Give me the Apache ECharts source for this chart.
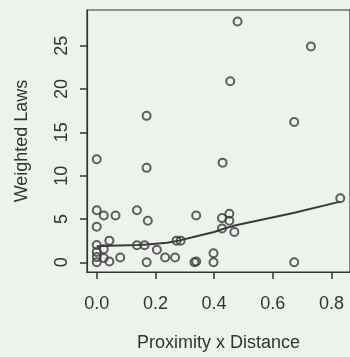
<!DOCTYPE html>
<html>
<head>
<meta charset="utf-8">
<script src="https://cdn.jsdelivr.net/npm/echarts@6/dist/echarts.min.js"></script>
<style>
html,body{margin:0;padding:0;background:#eef2ed;}
#chart{width:350px;height:357px;}
</style>
</head>
<body>
<div id="chart"></div>
<script>
// Scatter data: Proximity x Distance vs Weighted Laws
var proximityDistance = [0.48, 0.73, 0.455, 0.17, 0.673, 0.0, 0.429, 0.17, 0.83,
  0.0, 0.024, 0.064, 0.137, 0.174, 0.0, 0.339, 0.427, 0.452, 0.452, 0.427, 0.469,
  0.0, 0.043, 0.024, 0.0, 0.0, 0.0, 0.024, 0.043, 0.08, 0.137, 0.163, 0.205, 0.17,
  0.233, 0.267, 0.272, 0.286, 0.333, 0.339, 0.398, 0.398, 0.673];
var weightedLaws = [27.8, 24.9, 20.9, 16.9, 16.2, 11.9, 11.5, 10.9, 7.4,
  6.0, 5.4, 5.4, 6.0, 4.8, 4.1, 5.4, 5.1, 5.6, 4.8, 3.9, 3.5,
  2.0, 2.5, 1.5, 1.2, 0.6, 0.0, 0.5, 0.1, 0.55, 1.96, 1.96, 1.45, 0.0,
  0.55, 0.55, 2.5, 2.5, 0.0, 0.1, 1.05, 0.0, 0.0];
// Smoothed (lowess) curve
var smoothX = [0.0, 0.04, 0.14, 0.17, 0.24, 0.28, 0.34, 0.40, 0.43, 0.47, 0.67, 0.83];
var smoothY = [1.85, 1.9, 2.0, 2.05, 2.25, 2.5, 3.0, 3.5, 3.85, 4.25, 5.7, 7.0];
// Tick labels
var xTicks = [0.0, 0.2, 0.4, 0.6, 0.8];
var yTicks = [0, 5, 10, 15, 20, 25];

var ink = '#333333';
var font = 'Liberation Sans, Arial, Helvetica, sans-serif';

var scatterData = proximityDistance.map(function (x, i) { return [x, weightedLaws[i]]; });
var lineData = smoothX.map(function (x, i) { return [x, smoothY[i]]; });

var chart = echarts.init(document.getElementById('chart'), null, {renderer: 'canvas'});
chart.setOption({
  backgroundColor: '#eef2ed',
  animation: false,
  grid: {
    left: 87, top: 10, width: 264, height: 262,
    show: true, borderColor: ink, borderWidth: 1.2, backgroundColor: 'transparent'
  },
  xAxis: {
    type: 'value', min: -0.0332, max: 0.8632,
    name: 'Proximity x Distance', nameLocation: 'middle', nameGap: 62,
    nameTextStyle: {fontSize: 18, color: ink, fontFamily: font},
    axisLine: {show: true, onZero: false, lineStyle: {color: ink, width: 1.2}},
    splitLine: {show: false},
    axisTick: {show: true, customValues: xTicks, length: 7, inside: false, lineStyle: {color: ink, width: 1.5}},
    axisLabel: {customValues: xTicks, fontSize: 18, color: ink, fontFamily: font, margin: 23,
      formatter: function (v) { return v.toFixed(1); }}
  },
  yAxis: {
    type: 'value', min: -1.12, max: 29.12,
    name: 'Weighted Laws', nameLocation: 'middle', nameGap: 56, nameRotate: 90,
    nameTextStyle: {fontSize: 18, color: ink, fontFamily: font},
    axisLine: {show: true, onZero: false, lineStyle: {color: ink, width: 1.2}},
    splitLine: {show: false},
    axisTick: {show: true, customValues: yTicks, length: 7, inside: false, lineStyle: {color: ink, width: 1.5}},
    axisLabel: {customValues: yTicks, rotate: 90, fontSize: 18, color: ink, fontFamily: font, margin: 16}
  },
  series: [
    {
      type: 'scatter', data: scatterData, symbol: 'circle', symbolSize: 8,
      itemStyle: {color: 'rgba(0,0,0,0)', borderColor: '#3a3a3a', borderWidth: 2}
    },
    {
      type: 'line', data: lineData, showSymbol: false, smooth: false,
      lineStyle: {color: '#3a3a3a', width: 2}
    }
  ]
});
</script>
</body>
</html>
